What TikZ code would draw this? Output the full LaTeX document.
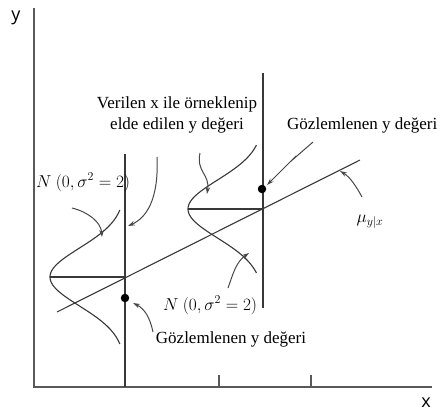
\documentclass[tikz,border=0pt]{standalone}
\usepackage{fontspec}
\setmainfont{Liberation Serif}
\newfontfamily\axfont{Open Sans}
\usetikzlibrary{arrows.meta}
\begin{document}
\begin{tikzpicture}[x=1pt,y=-1pt,
  ax/.style={line width=1.4pt,draw=black!65},
  ln/.style={line width=1.1pt,draw=black!78},
  pt/.style={line width=1pt,draw=black!72,-{Stealth[length=7pt,width=4.5pt]}},
  lbl/.style={font=\fontsize{17}{21.5}\selectfont,inner sep=0pt,text=black},
  dot/.style={circle,fill=black,inner sep=0pt,minimum size=8.5pt}]
\useasboundingbox (0,0) rectangle (445,416);
% axes
\coordinate (o) at (34,387);
\coordinate (ytop) at (34,8);
\coordinate (xend) at (432,387);
\draw[ax] (ytop) -- (o) -- (xend);
\node[font=\axfont\fontsize{18}{20}\selectfont,text=black] (ylab) at (16,18) {y};
\node[font=\axfont\fontsize{18}{20}\selectfont,text=black] (xlab) at (426,403) {x};
% ticks
\coordinate (t2) at (219,387); \coordinate (t2u) at (219,375);
\coordinate (t3) at (311,387); \coordinate (t3u) at (311,375);
\draw[ax] (t2) -- (t2u) (t3) -- (t3u);
% verticals
\coordinate (v1t) at (125,154); \coordinate (v1b) at (125,387);
\coordinate (v2t) at (263,73); \coordinate (v2b) at (263,308);
\draw[ln] (v1t) -- (v1b);
\draw[ln] (v2t) -- (v2b);
% regression line
\coordinate (r1) at (57,312); \coordinate (r2) at (360,160);
\draw[ln] (r1) -- (r2);
% horizontals
\coordinate (h1a) at (50,277); \coordinate (h1b) at (125,277);
\coordinate (h2a) at (188,209); \coordinate (h2b) at (263,209);
\draw[ln] (h1a) -- (h1b);
\draw[ln] (h2a) -- (h2b);
% bell curves
\draw[ln,smooth,samples=80,domain=-67:67,variable=\t]
  plot ({125-75*exp(-(\t*\t)/(2*29*29))},{277+\t});
\draw[ln,smooth,samples=80,domain=-64:64,variable=\t]
  plot ({263-75*exp(-(\t*\t)/(2*29*29))},{209+\t});
% dots
\node[dot] (d1) at (125,298) {};
\node[dot] (d2) at (262,189) {};
% labels
\node[lbl,align=center] (ver) at (177,115) {Verilen x ile örneklenip\\elde edilen y değeri};
\node[lbl,anchor=base west] (goz1) at (287,129) {Gözlemlenen y değeri};
\node[lbl,anchor=base] (goz2) at (231,343) {Gözlemlenen y değeri};
\node[lbl,anchor=base west] (n1) at (36,187) {$N\ (0,\sigma^2=2)$};
\node[lbl,anchor=base west] (n2) at (163,310) {$N\ (0,\sigma^2=2)$};
\node[lbl] (mu) at (370,222) {$\mu_{y|x}$};
% pointer arrows
\coordinate (a1s) at (72,208); \coordinate (a1e) at (102,237);
\draw[pt] (a1s) .. controls (88,212) and (101,222) .. (a1e);
\coordinate (a2s) at (157,157); \coordinate (a2e) at (128,226);
\draw[pt] (a2s) .. controls (159,200) and (146,218) .. (a2e);
\coordinate (a3s) at (200,153); \coordinate (a3e) at (207,194);
\draw[pt] (a3s) .. controls (196,172) and (210,174) .. (a3e);
\coordinate (a4s) at (313,142); \coordinate (a4e) at (267,185);
\draw[pt] (a4s) -- (290,162) -- (296,156) -- (a4e);
\coordinate (a5s) at (362,197); \coordinate (a5e) at (340,171);
\draw[pt] (a5s) .. controls (356,186) and (350,177) .. (a5e);
\coordinate (a6s) at (228,288); \coordinate (a6e) at (249,253);
\draw[pt] (a6s) .. controls (233,274) and (236,262) .. (a6e);
\coordinate (a7s) at (153,332); \coordinate (a7e) at (133,303);
\draw[pt] (a7s) .. controls (150,318) and (145,309) .. (a7e);
\end{tikzpicture}
\end{document}
